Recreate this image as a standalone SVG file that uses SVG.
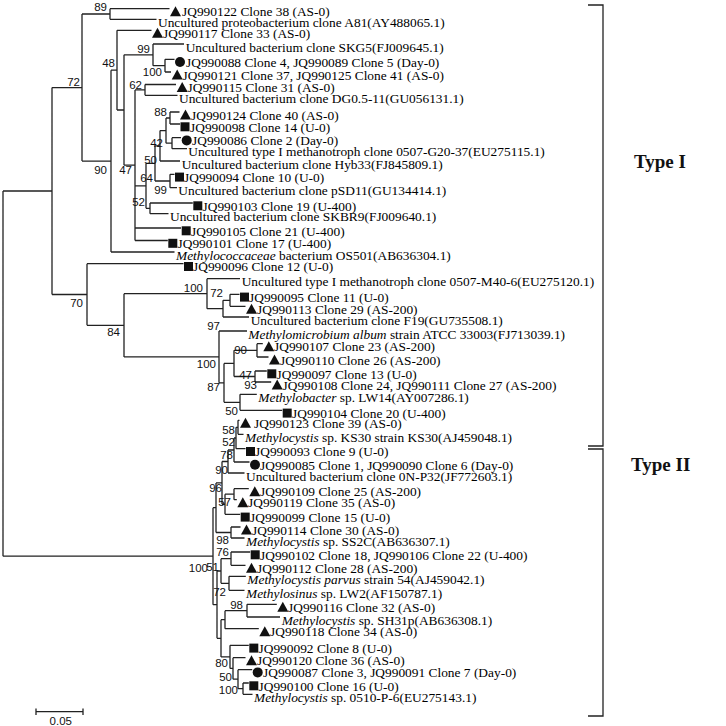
<svg xmlns="http://www.w3.org/2000/svg" xmlns:xlink="http://www.w3.org/1999/xlink" width="726" height="726" viewBox="0 0 726 726">
<style>
.lf{font-family:"Liberation Serif","Times New Roman",serif;font-size:13.4px;fill:#000}
.it{font-style:italic}
.bs{font-family:"Liberation Sans",Arial,sans-serif;font-size:11.5px;fill:#111;text-anchor:end}
.br{fill:none;stroke:#222;stroke-width:1.3}
.ty{font-family:"Liberation Serif","Times New Roman",serif;font-size:19px;font-weight:bold;fill:#111}
.mk{fill:#111}
</style>
<defs>
<path id="tri" d="M0,4.5 L11,4.5 L5.5,-5.5Z"/>
<rect id="sq" x="0" y="-4.7" width="9" height="9"/>
<circle id="ci" cx="5" cy="-0.3" r="5"/>
</defs>
<rect width="726" height="726" fill="#fff"/>
<g id="connectors" class="br">
<path d="M3,191V556.2M3,191H52M3,556.2H213
M52,87.55V294.5M52,87.55H82M52,294.5H87
M82,14V161.1M82,14H110M82,161.1H111
M110,8.7V19.3M110,8.7H169.5M110,19.3H156.5
M111,70.15V252M111,70.15H117M111,252H174.5
M117,30.3V110M117,30.3H151.5M117,110H124
M124,54.8V165.2M124,54.8H153M124,165.2H135
M153,44V65.65M153,44H184M153,65.65H165
M165,59.3V72M165,59.3H174.5M165,72H171
M135,89.9V240.5M135,89.9H145M135,185.9H146M135,228H181M135,240.5H167.8
M145,84.5V95.3M145,84.5H176M145,95.3H177.5
M146,163.4V208.35M146,163.4H155M146,208.35H150
M155,145.8V181M155,145.8H160M155,181H170
M160,130.6V161M160,130.6H166M160,161H180
M166,118V143.2M166,118H170M166,143.2H172
M170,112V124M170,112H179.5M170,124H180
M172,137.7V148.7M172,137.7H181M172,148.7H187
M170,174.3V187.7M170,174.3H174.5M170,187.7H177
M150,203V213.7M150,203H192.8M150,213.7H168.5
M87,263.7V325.3M87,263.7H183.5M87,325.3H124
M124,293.7V356.9M124,293.7H207M124,356.9H219
M207,278.7V308.65M207,278.7H240M207,308.65H223
M223,300.3V317M223,300.3H230M223,317H249
M230,294.3V306.3M230,294.3H239.5M230,306.3H245.5
M219,331V382.85M219,331H247M219,382.85H224
M224,363.4V402.3M224,363.4H234M224,402.3H240
M234,350.35V376.5M234,350.35H257M234,376.5H255
M257,343.7V357M257,343.7H262.8M257,357H268.5
M255,371V382M255,371H266.8M255,382H271.2
M240,394.3V410.3M240,394.3H256.8M240,410.3H282.2
M213,507.7V604.65M213,507.7H216M213,604.65H217
M216,482.9V532.5M216,482.9H222M216,532.5H231
M222,461.5V504.25M222,461.5H228M222,504.25H225
M228,450V473M228,450H234M228,473H244.5
M234,438V462M234,438H236M234,462H249.5
M236,427.3V448.7M236,427.3H238M236,448.7H245.5
M238,420.3V434.3M238,420.3H239.5M238,434.3H243.5
M225,494.2V514.3M225,494.2H234M225,514.3H240.2
M234,488.7V499.7M234,488.7H248.8M234,499.7H236.8
M231,527V538M231,527H240.5M231,538H244.5
M217,571V638.3M217,571H221M217,638.3H221
M221,558.65V583.3M221,558.65H231M221,583.3H229
M231,552V565.3M231,552H250.2M231,565.3H245.5
M229,576.3V590.3M229,576.3H245.8M229,590.3H244.5
M221,619.7V656.9M221,619.7H225M221,656.9H230
M225,610.65V628.7M225,610.65H247M225,628.7H258.8
M247,604.3V617M247,604.3H276.8M247,617H280
M230,645.3V668.45M230,645.3H248.8M230,668.45H233
M233,657.7V679.2M233,657.7H245.5M233,679.2H238
M238,669.7V688.65M238,669.7H252.2M238,688.65H243
M243,683V694.3M243,683H248.8M243,694.3H252.5"/>
</g>
<g id="bootstrap" class="bs">
<text x="107" y="11">89</text><text x="80" y="86">72</text><text x="107" y="174">90</text><text x="132" y="174">47</text>
<text x="115" y="67">48</text><text x="150" y="53">99</text><text x="162" y="76">100</text><text x="142" y="89">62</text>
<text x="167" y="116">88</text><text x="163" y="147">42</text><text x="157" y="164">50</text><text x="153" y="182">64</text>
<text x="167" y="194">99</text><text x="145" y="206">52</text><text x="83" y="307">70</text><text x="120" y="336">84</text>
<text x="203" y="292">100</text><text x="223" y="297">72</text><text x="220" y="330">97</text><text x="247" y="354">90</text>
<text x="216" y="368">100</text><text x="252" y="379">47</text><text x="257" y="389">93</text><text x="220" y="391">87</text>
<text x="238" y="415">50</text><text x="235" y="434">58</text><text x="235" y="446">52</text><text x="233" y="459">78</text>
<text x="228" y="474">90</text><text x="222" y="492">96</text><text x="231" y="506">57</text><text x="229" y="544">98</text>
<text x="229" y="556">76</text><text x="208" y="572">100</text><text x="219" y="571">51</text><text x="226" y="596">72</text>
<text x="243" y="609">98</text><text x="228" y="667">80</text><text x="232" y="681">50</text><text x="238" y="694">100</text>
</g>
<g id="leaves">
<g id="n1"><use href="#tri" class="mk" x="170" y="11.7"/><text class="lf" x="182" y="16.2">JQ990122 Clone 38 (AS-0)</text></g>
<g id="n2"><text class="lf" x="158" y="26.8">Uncultured proteobacterium clone A81(AY488065.1)</text></g>
<g id="n3"><use href="#tri" class="mk" x="152" y="33.3"/><text class="lf" x="163" y="37.8">JQ990117 Clone 33 (AS-0)</text></g>
<g id="n4"><text class="lf" x="185.7" y="51.5">Uncultured bacterium clone SKG5(FJ009645.1)</text></g>
<g id="n5"><use href="#ci" class="mk" x="175" y="62.3"/><text class="lf" x="186" y="66.8">JQ990088 Clone 4, JQ990089 Clone 5 (Day-0)</text></g>
<g id="n6"><use href="#tri" class="mk" x="171.7" y="75"/><text class="lf" x="182.5" y="79.5">JQ990121 Clone 37, JQ990125 Clone 41 (AS-0)</text></g>
<g id="n7"><use href="#tri" class="mk" x="176.7" y="87.5"/><text class="lf" x="187.5" y="92">JQ990115 Clone 31 (AS-0)</text></g>
<g id="n8"><text class="lf" x="179" y="102.8">Uncultured bacterium clone DG0.5-11(GU056131.1)</text></g>
<g id="n9"><use href="#tri" class="mk" x="180" y="115"/><text class="lf" x="191" y="119.5">JQ990124 Clone 40 (AS-0)</text></g>
<g id="n10"><use href="#sq" class="mk" x="180.5" y="127"/><text class="lf" x="190" y="131.5">JQ990098 Clone 14 (U-0)</text></g>
<g id="n11"><use href="#ci" class="mk" x="181.7" y="140.7"/><text class="lf" x="192" y="145.2">JQ990086 Clone 2 (Day-0)</text></g>
<g id="n12"><text class="lf" x="188.3" y="156.2">Uncultured type I methanotroph clone 0507-G20-37(EU275115.1)</text></g>
<g id="n13"><text class="lf" x="181.7" y="168.5">Uncultured bacterium clone Hyb33(FJ845809.1)</text></g>
<g id="n14"><use href="#sq" class="mk" x="175" y="177.3"/><text class="lf" x="184" y="181.8">JQ990094 Clone 10 (U-0)</text></g>
<g id="n15"><text class="lf" x="178.3" y="195.2">Uncultured bacterium clone pSD11(GU134414.1)</text></g>
<g id="n16"><use href="#sq" class="mk" x="193.3" y="206"/><text class="lf" x="202.5" y="210.5">JQ990103 Clone 19 (U-400)</text></g>
<g id="n17"><text class="lf" x="170" y="221.2">Uncultured bacterium clone SKBR9(FJ009640.1)</text></g>
<g id="n18"><use href="#sq" class="mk" x="181.7" y="231"/><text class="lf" x="191" y="235.5">JQ990105 Clone 21 (U-400)</text></g>
<g id="n19"><use href="#sq" class="mk" x="168.3" y="243.5"/><text class="lf" x="177.5" y="248">JQ990101 Clone 17 (U-400)</text></g>
<g id="n20"><text class="lf" x="176" y="259.5"><tspan class="it">Methylococcaceae</tspan> bacterium OS501(AB636304.1)</text></g>
<g id="n21"><use href="#sq" class="mk" x="184" y="266.7"/><text class="lf" x="193" y="271.2">JQ990096 Clone 12 (U-0)</text></g>
<g id="n22"><text class="lf" x="241.7" y="286.2">Uncultured type I methanotroph clone 0507-M40-6(EU275120.1)</text></g>
<g id="n23"><use href="#sq" class="mk" x="240" y="297.3"/><text class="lf" x="249" y="301.8">JQ990095 Clone 11 (U-0)</text></g>
<g id="n24"><use href="#tri" class="mk" x="246" y="309.3"/><text class="lf" x="257" y="313.8">JQ990113 Clone 29 (AS-200)</text></g>
<g id="n25"><text class="lf" x="250.7" y="324.5">Uncultured bacterium clone F19(GU735508.1)</text></g>
<g id="n26"><text class="lf" x="248.3" y="338.5"><tspan class="it">Methylomicrobium album</tspan> strain ATCC 33003(FJ713039.1)</text></g>
<g id="n27"><use href="#tri" class="mk" x="263.3" y="346.7"/><text class="lf" x="274" y="351.2">JQ990107 Clone 23 (AS-200)</text></g>
<g id="n28"><use href="#tri" class="mk" x="269" y="360"/><text class="lf" x="280" y="364.5">JQ990110 Clone 26 (AS-200)</text></g>
<g id="n29"><use href="#sq" class="mk" x="267.3" y="374"/><text class="lf" x="276.5" y="378.5">JQ990097 Clone 13 (U-0)</text></g>
<g id="n30"><use href="#tri" class="mk" x="271.7" y="385"/><text class="lf" x="282.5" y="389.5">JQ990108 Clone 24, JQ990111 Clone 27 (AS-200)</text></g>
<g id="n31"><text class="lf" x="258.3" y="401.8"><tspan class="it">Methylobacter</tspan> sp. LW14(AY007286.1)</text></g>
<g id="n32"><use href="#sq" class="mk" x="282.7" y="413.3"/><text class="lf" x="292" y="417.8">JQ990104 Clone 20 (U-400)</text></g>
<g id="n33"><use href="#tri" class="mk" x="240" y="423.3"/><text class="lf" x="254" y="427.8">JQ990123 Clone 39 (AS-0)</text></g>
<g id="n34"><text class="lf" x="245" y="441.8"><tspan class="it">Methylocystis</tspan> sp. KS30 strain KS30(AJ459048.1)</text></g>
<g id="n35"><use href="#sq" class="mk" x="246" y="451.7"/><text class="lf" x="255" y="456.2">JQ990093 Clone 9 (U-0)</text></g>
<g id="n36"><use href="#ci" class="mk" x="250" y="465"/><text class="lf" x="260" y="469.5">JQ990085 Clone 1, JQ990090 Clone 6 (Day-0)</text></g>
<g id="n37"><text class="lf" x="246" y="480.5">Uncultured bacterium clone 0N-P32(JF772603.1)</text></g>
<g id="n38"><use href="#tri" class="mk" x="249.3" y="491.7"/><text class="lf" x="260" y="496.2">JQ990109 Clone 25 (AS-200)</text></g>
<g id="n39"><use href="#tri" class="mk" x="237.3" y="502.7"/><text class="lf" x="248" y="507.2">JQ990119 Clone 35 (AS-0)</text></g>
<g id="n40"><use href="#sq" class="mk" x="240.7" y="517.3"/><text class="lf" x="250" y="521.8">JQ990099 Clone 15 (U-0)</text></g>
<g id="n41"><use href="#tri" class="mk" x="241" y="530"/><text class="lf" x="252" y="534.5">JQ990114 Clone 30 (AS-0)</text></g>
<g id="n42"><text class="lf" x="246" y="545.5"><tspan class="it">Methylocystis</tspan> sp. SS2C(AB636307.1)</text></g>
<g id="n43"><use href="#sq" class="mk" x="250.7" y="555"/><text class="lf" x="260" y="559.5">JQ990102 Clone 18, JQ990106 Clone 22 (U-400)</text></g>
<g id="n44"><use href="#tri" class="mk" x="246" y="568.3"/><text class="lf" x="257" y="572.8">JQ990112 Clone 28 (AS-200)</text></g>
<g id="n45"><text class="lf" x="247.3" y="583.8"><tspan class="it">Methylocystis parvus</tspan> strain 54(AJ459042.1)</text></g>
<g id="n46"><text class="lf" x="246" y="597.8"><tspan class="it">Methylosinus</tspan> sp. LW2(AF150787.1)</text></g>
<g id="n47"><use href="#tri" class="mk" x="277.3" y="607.3"/><text class="lf" x="288" y="611.8">JQ990116 Clone 32 (AS-0)</text></g>
<g id="n48"><text class="lf" x="281.7" y="624.5"><tspan class="it">Methylocystis</tspan> sp. SH31p(AB636308.1)</text></g>
<g id="n49"><use href="#tri" class="mk" x="259.3" y="631.7"/><text class="lf" x="270" y="636.2">JQ990118 Clone 34 (AS-0)</text></g>
<g id="n50"><use href="#sq" class="mk" x="249.3" y="648.3"/><text class="lf" x="258.5" y="652.8">JQ990092 Clone 8 (U-0)</text></g>
<g id="n51"><use href="#tri" class="mk" x="246" y="660.7"/><text class="lf" x="257" y="665.2">JQ990120 Clone 36 (AS-0)</text></g>
<g id="n52"><use href="#ci" class="mk" x="252.7" y="672.7"/><text class="lf" x="263" y="677.2">JQ990087 Clone 3, JQ990091 Clone 7 (Day-0)</text></g>
<g id="n53"><use href="#sq" class="mk" x="249.3" y="686"/><text class="lf" x="258.5" y="690.5">JQ990100 Clone 16 (U-0)</text></g>
<g id="n54"><text class="lf" x="254" y="701.8"><tspan class="it">Methylocystis</tspan> sp. 0510-P-6(EU275143.1)</text></g>
</g>
<g id="typeI"><path class="br" d="M588,5H603V446H588"/><text class="ty" x="634" y="168">Type I</text></g>
<g id="typeII"><path class="br" d="M588,449H603V716H588"/><text class="ty" x="631" y="471">Type II</text></g>
<g id="scale"><path class="br" d="M36,711.7H83M36,708.5V715M83,708.5V715"/><text class="bs" x="72" y="725">0.05</text></g>
</svg>
